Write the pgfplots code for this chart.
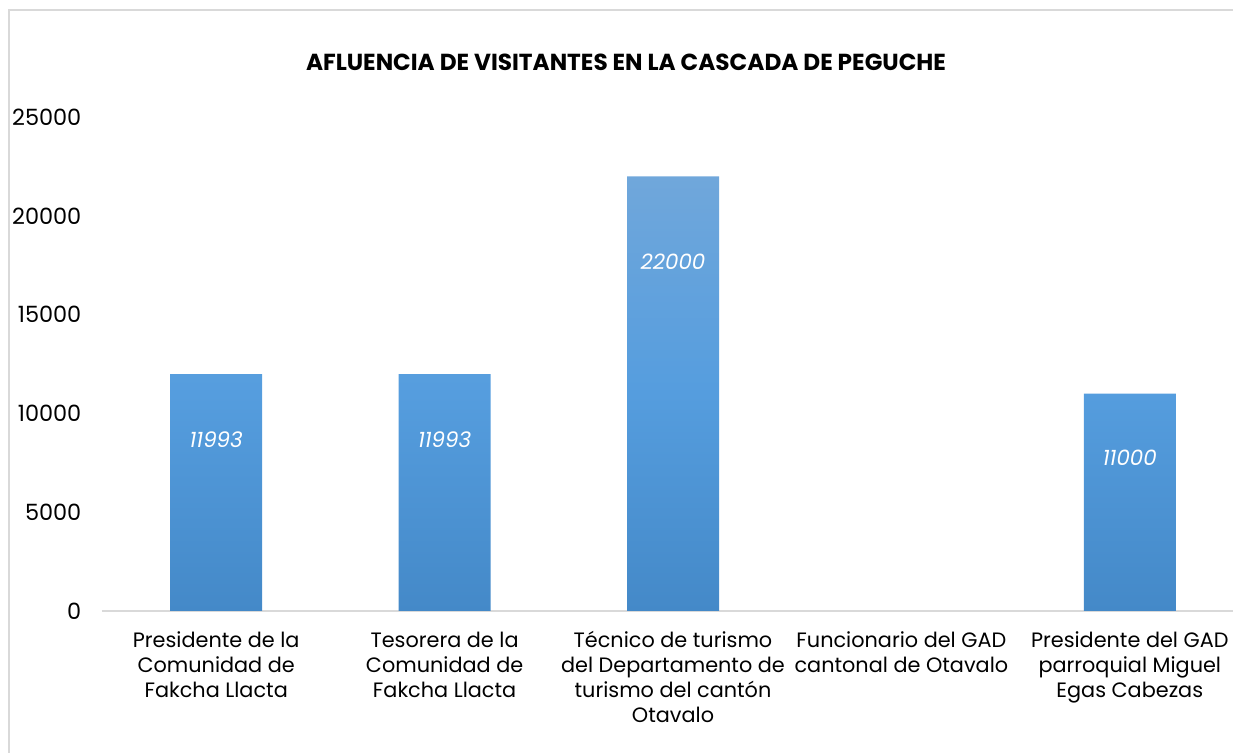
\documentclass[border=0pt]{standalone}
\usepackage{pgfplots}
\pgfplotsset{compat=1.18}
\usepackage{fontspec}
\setmainfont{Poppins}
\definecolor{bartop}{RGB}{112,167,219}
\definecolor{barmid}{RGB}{85,157,222}
\definecolor{barbot}{RGB}{68,137,200}
\definecolor{framegray}{RGB}{217,217,217}
\definecolor{axisgray}{RGB}{217,217,217}
\begin{document}
\begin{tikzpicture}[x=1pt,y=1pt]
\useasboundingbox (0,0) rectangle (924.75,564.75);
\draw[framegray, line width=1pt] (6.75,-20) -- (6.75,557.25) -- (950,557.25);
\node[font=\bfseries\fontsize{17.4}{20}\selectfont, anchor=center] at (469.5,518.25) {AFLUENCIA DE VISITANTES EN LA CASCADA DE PEGUCHE};
\begin{axis}[
  at={(76.5pt,106.5pt)}, anchor=south west,
  scale only axis, width=856.5pt, height=370.5pt,
  xmin=-0.5, xmax=4.5, ymin=0, ymax=25000,
  axis x line*=bottom, axis y line*=left,
  x axis line style={draw=axisgray, line width=1pt, -},
  y axis line style={draw=none},
  major tick length=0pt,
  xtick={0,1,2,3,4},
  xticklabels={{Presidente de la\\Comunidad de\\Fakcha Llacta},{Tesorera de la\\Comunidad de\\Fakcha Llacta},{Técnico de turismo\\del Departamento de\\turismo del cantón\\Otavalo},{Funcionario del GAD\\cantonal de Otavalo},{Presidente del GAD\\parroquial Miguel\\Egas Cabezas}},
  xticklabel style={align=center, font=\fontsize{15.6}{18.75}\selectfont, anchor=north, yshift=-12pt},
  ytick={0,5000,10000,15000,20000,25000},
  yticklabel style={font=\fontsize{16.8}{18}\selectfont, anchor=east, xshift=-12pt},
  /pgf/number format/assume math mode=true,
  scaled y ticks=false,
  yticklabel={\pgfmathprintnumber[fixed,precision=0,1000 sep={}]{\tick}},
  ybar, bar width=69pt,
  clip=false,
]
\addplot[draw=none, top color=bartop, bottom color=barbot, middle color=barmid] coordinates {(0,11993) (1,11993) (2,22000) (4,11000)};
\node[white, font=\itshape\fontsize{16}{18}\selectfont] at (axis cs:0,8654) {11993};
\node[white, font=\itshape\fontsize{16}{18}\selectfont] at (axis cs:1,8654) {11993};
\node[white, font=\itshape\fontsize{16}{18}\selectfont] at (axis cs:2,17662) {22000};
\node[white, font=\itshape\fontsize{16}{18}\selectfont] at (axis cs:4,7743) {11000};
\end{axis}
\end{tikzpicture}
\end{document}
